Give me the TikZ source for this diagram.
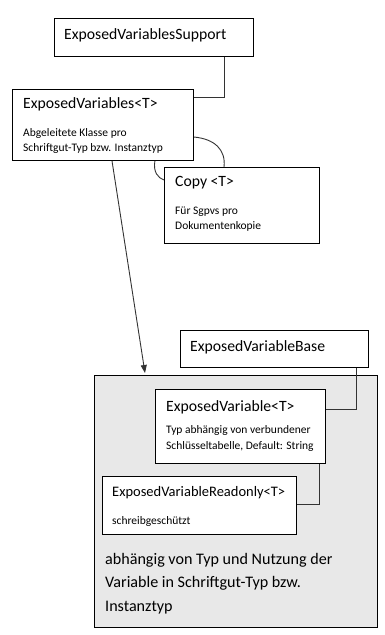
\documentclass[tikz,border=0pt]{standalone}
\usepackage{fontspec}
\setmainfont{Carlito}
\usetikzlibrary{arrows.meta}
\begin{document}
\begin{tikzpicture}[x=1pt,y=-1pt,
  box/.style={draw=black,line width=0.9pt,fill=white,anchor=north west,inner sep=0pt},
  big/.style={anchor=base west,inner sep=0pt,font=\fontsize{15.7}{18}\selectfont},
  huge/.style={anchor=base west,inner sep=0pt,font=\fontsize{16.1}{19}\selectfont},
  mid/.style={anchor=base west,inner sep=0pt,font=\fontsize{14.5}{17}\selectfont},
  small/.style={anchor=base west,inner sep=0pt,font=\fontsize{11.5}{13}\selectfont},
  conn/.style={draw=black!80,line width=0.9pt}]
\useasboundingbox (0,0) rectangle (384,635);
% group
\node[box,fill=black!9,minimum width=283pt,minimum height=252pt] (grp) at (94,375) {};
% boxes
\node[box,minimum width=199pt,minimum height=38pt] (sup) at (54,18) {};
\node[box,minimum width=181pt,minimum height=71pt] (evs) at (12,89) {};
\draw[conn] ([yshift=-48pt]evs.north east) .. controls (215,139) and (226,150) .. (224,167) coordinate (c1);
\draw[conn] ([xshift=-39pt]evs.south east) .. controls (153,172) and (158,178) .. (164,180) coordinate (c2);
\node[box,minimum width=155pt,minimum height=76pt] (copy) at (164,167) {};
\node[box,minimum width=188pt,minimum height=37pt] (base) at (180,330) {};
\node[box,minimum width=170pt,minimum height=74pt] (ev) at (155,389) {};
\node[box,minimum width=194pt,minimum height=58pt] (ro) at (102,476) {};
% connectors
\draw[conn] ([xshift=-29pt]sup.south east) |- ([yshift=-8pt]evs.north east);
\draw[conn] ([xshift=-12pt]base.south east) |- ([yshift=-20pt]ev.north east);
\draw[conn] ([xshift=-6pt]ev.south east) |- ([yshift=-28pt]ro.north east);
\draw[conn,-{Triangle[length=8pt,width=6pt]}] ([xshift=100pt]evs.south west) -- ([xshift=51pt,yshift=2pt]grp.north west);
% texts
\node[big] (t1) at (64,39) {ExposedVariablesSupport};
\node[big] (t2) at (23,108) {ExposedVariables<T>};
\node[small] (t2a) at (23,136) {Abgeleitete Klasse pro};
\node[small] (t2b) at (23,151) {Schriftgut-Typ bzw. Instanztyp};
\node[big] (t3) at (175,186) {Copy <T>};
\node[small] (t3a) at (175,214) {Für Sgpvs pro};
\node[small] (t3b) at (175,229) {Dokumentenkopie};
\node[big] (t4) at (190,351) {ExposedVariableBase};
\node[big] (t5) at (166,411) {ExposedVariable<T>};
\node[small] (t5a) at (166,433) {Typ abhängig von verbundener};
\node[small] (t5b) at (166,449) {Schlüsseltabelle, Default: String};
\node[mid] (t6) at (112,496) {ExposedVariableReadonly<T>};
\node[small] (t6a) at (112,524) {schreibgeschützt};
\node[huge] (t7) at (105,564) {abhängig von Typ und Nutzung der};
\node[huge] (t8) at (105,587) {Variable in Schriftgut-Typ bzw.};
\node[huge] (t9) at (105,611) {Instanztyp};
\end{tikzpicture}
\end{document}
